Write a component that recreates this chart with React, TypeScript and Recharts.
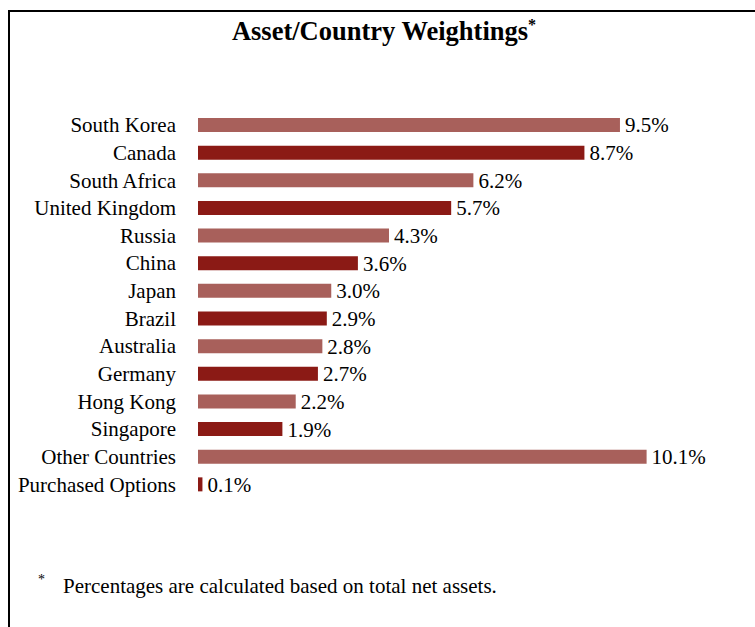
import { Bar, BarChart, Cell, LabelList, XAxis, YAxis } from "recharts";

const countries = [
  "South Korea",
  "Canada",
  "South Africa",
  "United Kingdom",
  "Russia",
  "China",
  "Japan",
  "Brazil",
  "Australia",
  "Germany",
  "Hong Kong",
  "Singapore",
  "Other Countries",
  "Purchased Options",
];

const weights = [9.5, 8.7, 6.2, 5.7, 4.3, 3.6, 3.0, 2.9, 2.8, 2.7, 2.2, 1.9, 10.1, 0.1];

const lightColor = "#a8605b";
const darkColor = "#8b1a15";
const serif = "'Liberation Serif', 'Times New Roman', serif";

const data = countries.map((name, i) => ({ name, value: weights[i] }));

export default function App() {
  return (
    <div
      style={{
        position: "fixed",
        left: 0,
        top: 0,
        width: 755,
        height: 627,
        overflow: "hidden",
        background: "#fff",
        fontFamily: serif,
      }}
    >
      <div
        style={{
          position: "absolute",
          left: 8,
          top: 10,
          width: 780,
          height: 660,
          border: "2px solid #000",
        }}
      />
      <div
        style={{
          position: "absolute",
          left: 0,
          width: 768,
          top: 16,
          textAlign: "center",
          fontWeight: "bold",
          fontSize: 26.5,
          color: "#000",
        }}
      >
        Asset/Country Weightings
        <sup style={{ fontSize: 16 }}>*</sup>
      </div>
      <div style={{ position: "absolute", left: 0, top: 0 }}>
        <BarChart
          width={755}
          height={627}
          layout="vertical"
          data={data}
          margin={{ top: 111, right: 24, bottom: 129, left: 0 }}
          barCategoryGap={0}
        >
          <XAxis type="number" domain={[0, 12]} hide />
          <YAxis
            type="category"
            dataKey="name"
            width={198}
            axisLine={false}
            tickLine={false}
            tickSize={0}
            tickMargin={22}
            interval={0}
            tick={{ fill: "#000", fontSize: 21, fontFamily: serif }}
          />
          <Bar dataKey="value" barSize={14} isAnimationActive={false}>
            {data.map((_, i) => (
              <Cell key={i} fill={i % 2 === 0 ? lightColor : darkColor} />
            ))}
            <LabelList
              dataKey="value"
              position="right"
              offset={5}
              formatter={(v: number) => `${Number(v).toFixed(1)}%`}
              style={{ fill: "#000", fontSize: 21, fontFamily: serif }}
            />
          </Bar>
        </BarChart>
      </div>
      <div style={{ position: "absolute", left: 38, top: 572, fontSize: 14 }}>*</div>
      <div style={{ position: "absolute", left: 63, top: 574, fontSize: 21, color: "#000" }}>
        Percentages are calculated based on total net assets.
      </div>
    </div>
  );
}
